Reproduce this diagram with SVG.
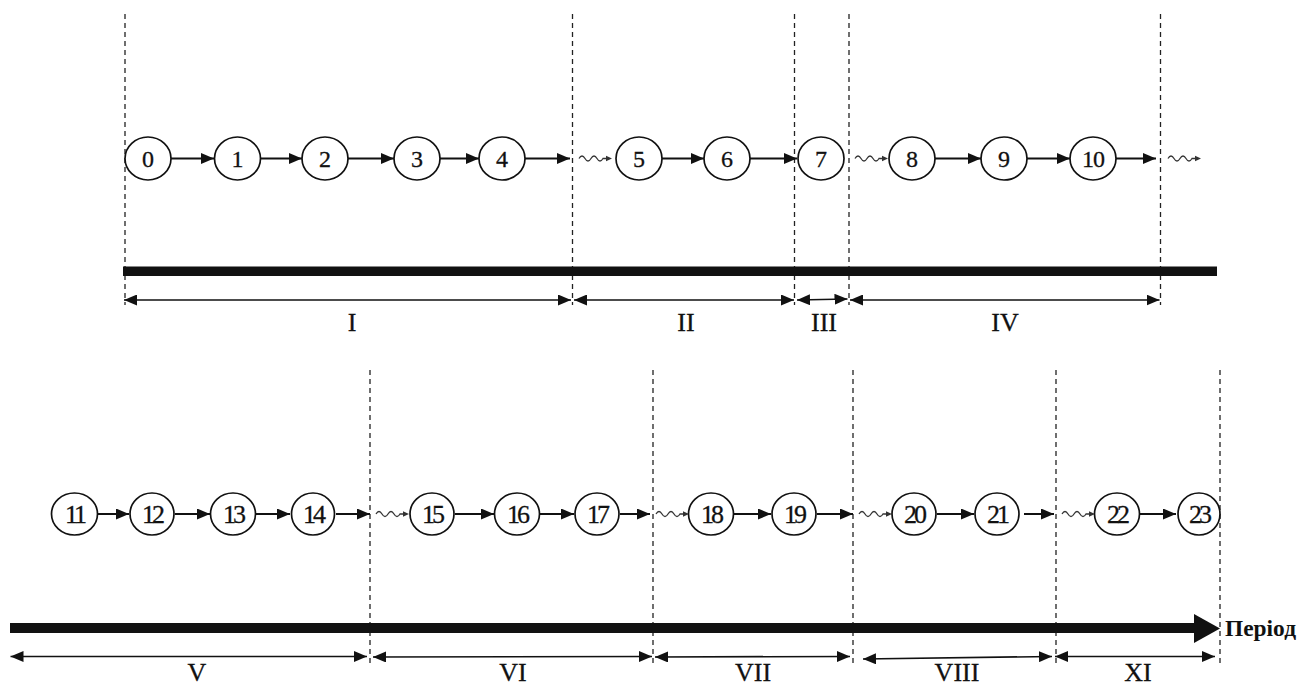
<svg xmlns="http://www.w3.org/2000/svg" width="1299" height="686" viewBox="0 0 1299 686">
<style>
.bg{fill:#fff}
.node ellipse{fill:#fff;stroke:#111;stroke-width:1.7}
.node text{font-family:"Liberation Serif","Times New Roman",serif;font-size:24px;fill:#111;text-anchor:middle;stroke:#111;stroke-width:0.3}
.node.b text{font-size:26px;letter-spacing:-3px}
.conn line{stroke:#111;stroke-width:2;marker-end:url(#ah)}
.dash{stroke:#222;stroke-width:1.3;stroke-dasharray:5,4;fill:none}
.dim{stroke:#111;stroke-width:1.7;marker-start:url(#dh);marker-end:url(#dh)}
.lbl{font-family:"Liberation Serif","Times New Roman",serif;font-size:26px;fill:#111;text-anchor:middle;stroke:#111;stroke-width:0.3}
.wave{fill:none;stroke:#333;stroke-width:1.3}
</style>
<defs>
<marker id="ah" markerUnits="userSpaceOnUse" markerWidth="13" markerHeight="11" refX="13" refY="5.5" orient="auto"><path d="M0,0 L13,5.5 L0,11 z" fill="#111"/></marker>
<marker id="dh" markerUnits="userSpaceOnUse" markerWidth="13" markerHeight="11" refX="13" refY="5.5" orient="auto-start-reverse"><path d="M0,0 L13,5.5 L0,11 z" fill="#111"/></marker>
<g id="wv"><path class="wave" d="M0,0 q3,-5 6,0 t6,0 t6,0 t6,0 L29,0"/><path d="M33,0 L27,-2.8 L27,2.8 z" fill="#333"/></g>
</defs>
<rect class="bg" x="0" y="0" width="1299" height="686"/>

<g id="guides">
<line class="dash" x1="125" y1="14" x2="125" y2="305"/>
<line class="dash" x1="572.5" y1="14" x2="572.5" y2="305"/>
<line class="dash" x1="794.5" y1="14" x2="794.5" y2="305"/>
<line class="dash" x1="849" y1="14" x2="849" y2="305"/>
<line class="dash" x1="1160.5" y1="14" x2="1160.5" y2="305"/>
<line class="dash" x1="370" y1="370" x2="370" y2="666"/>
<line class="dash" x1="653" y1="370" x2="653" y2="666"/>
<line class="dash" x1="853" y1="370" x2="853" y2="666"/>
<line class="dash" x1="1056" y1="370" x2="1056" y2="666"/>
<line class="dash" x1="1220" y1="370" x2="1220" y2="666"/>
</g>

<g id="timeline">
<rect x="123" y="266.5" width="1094" height="9.5" fill="#111"/>
<rect x="10" y="623" width="1187" height="10" fill="#111"/>
<path d="M1194,614 L1220,628.5 L1194,643 z" fill="#111"/>
<text x="1225" y="636" font-family="'Liberation Serif','Times New Roman',serif" font-weight="bold" font-size="23" textLength="71" lengthAdjust="spacingAndGlyphs" fill="#111">Період</text>
</g>

<g id="connectors" class="conn">
<line x1="171" y1="158.5" x2="214" y2="158.5"/>
<line x1="260.5" y1="158.5" x2="302" y2="158.5"/>
<line x1="348" y1="158.5" x2="394" y2="158.5"/>
<line x1="440" y1="158.5" x2="479" y2="158.5"/>
<line x1="525" y1="158.5" x2="570" y2="158.5"/>
<line x1="662" y1="158.5" x2="704" y2="158.5"/>
<line x1="750" y1="158.5" x2="797" y2="158.5"/>
<line x1="935" y1="158.5" x2="981" y2="158.5"/>
<line x1="1027" y1="158.5" x2="1070" y2="158.5"/>
<line x1="1116" y1="158.5" x2="1156" y2="158.5"/>
<line x1="97.5" y1="514" x2="129" y2="514"/>
<line x1="175" y1="514" x2="210" y2="514"/>
<line x1="256" y1="514" x2="290" y2="514"/>
<line x1="336" y1="514" x2="370" y2="514"/>
<line x1="455" y1="514" x2="494" y2="514"/>
<line x1="540" y1="514" x2="574" y2="514"/>
<line x1="620" y1="514" x2="650" y2="514"/>
<line x1="734" y1="514" x2="771" y2="514"/>
<line x1="817" y1="514" x2="853" y2="514"/>
<line x1="937" y1="514" x2="974" y2="514"/>
<line x1="1024" y1="514" x2="1054" y2="514"/>
<line x1="1140" y1="514" x2="1176" y2="514"/>
</g>

<g id="waves">
<use href="#wv" x="579" y="158.5"/>
<use href="#wv" x="855" y="158.5"/>
<use href="#wv" x="1168" y="158.5"/>
<use href="#wv" x="376" y="514"/>
<use href="#wv" x="656" y="514"/>
<use href="#wv" x="859" y="514"/>
<use href="#wv" x="1062" y="514"/>
</g>

<g id="n0" class="node"><ellipse cx="148" cy="158.5" rx="23" ry="21.5"/><text x="148" y="167">0</text></g>
<g id="n1" class="node"><ellipse cx="237.5" cy="158.5" rx="23" ry="21.5"/><text x="237.5" y="167">1</text></g>
<g id="n2" class="node"><ellipse cx="325" cy="158.5" rx="23" ry="21.5"/><text x="325" y="167">2</text></g>
<g id="n3" class="node"><ellipse cx="417" cy="158.5" rx="23" ry="21.5"/><text x="417" y="167">3</text></g>
<g id="n4" class="node"><ellipse cx="502" cy="158.5" rx="23" ry="21.5"/><text x="502" y="167">4</text></g>
<g id="n5" class="node"><ellipse cx="639" cy="158.5" rx="23" ry="21.5"/><text x="639" y="167">5</text></g>
<g id="n6" class="node"><ellipse cx="727" cy="158.5" rx="23" ry="21.5"/><text x="727" y="167">6</text></g>
<g id="n7" class="node"><ellipse cx="821" cy="158.5" rx="23" ry="21.5"/><text x="821" y="167">7</text></g>
<g id="n8" class="node"><ellipse cx="912" cy="158.5" rx="23" ry="21.5"/><text x="912" y="167">8</text></g>
<g id="n9" class="node"><ellipse cx="1004" cy="158.5" rx="23" ry="21.5"/><text x="1004" y="167">9</text></g>
<g id="n10" class="node"><ellipse cx="1093" cy="158.5" rx="23" ry="21.5"/><text x="1093" y="167" letter-spacing="-1">10</text></g>

<g id="n11" class="node b"><ellipse cx="74.5" cy="514" rx="23" ry="21"/><text x="74.5" y="523">11</text></g>
<g id="n12" class="node b"><ellipse cx="152" cy="514" rx="22" ry="21"/><text x="152" y="523">12</text></g>
<g id="n13" class="node b"><ellipse cx="233" cy="514" rx="22.5" ry="21"/><text x="233" y="523">13</text></g>
<g id="n14" class="node b"><ellipse cx="313" cy="514" rx="21.5" ry="21"/><text x="313" y="523">14</text></g>
<g id="n15" class="node b"><ellipse cx="432" cy="514" rx="22" ry="21"/><text x="432" y="523">15</text></g>
<g id="n16" class="node b"><ellipse cx="517" cy="514" rx="22.5" ry="21"/><text x="517" y="523">16</text></g>
<g id="n17" class="node b"><ellipse cx="597" cy="514" rx="22" ry="21"/><text x="597" y="523">17</text></g>
<g id="n18" class="node b"><ellipse cx="711" cy="514" rx="22.5" ry="21"/><text x="711" y="523">18</text></g>
<g id="n19" class="node b"><ellipse cx="794" cy="514" rx="22" ry="21"/><text x="794" y="523">19</text></g>
<g id="n20" class="node b"><ellipse cx="914" cy="514" rx="22" ry="21"/><text x="914" y="523">20</text></g>
<g id="n21" class="node b"><ellipse cx="997" cy="514" rx="22" ry="21"/><text x="997" y="523">21</text></g>
<g id="n22" class="node b"><ellipse cx="1117" cy="514" rx="22.5" ry="21"/><text x="1117" y="523">22</text></g>
<g id="n23" class="node b"><ellipse cx="1199" cy="514" rx="21" ry="21"/><text x="1199" y="523">23</text></g>

<g id="dimensions">
<line class="dim" x1="124" y1="300" x2="571" y2="300"/>
<line class="dim" x1="574" y1="300" x2="794" y2="300"/>
<line class="dim" x1="797" y1="300" x2="847.5" y2="299"/>
<line class="dim" x1="850" y1="300" x2="1159.5" y2="300"/>
<line class="dim" x1="10.5" y1="656.5" x2="367" y2="656.5"/>
<line class="dim" x1="373" y1="657" x2="652" y2="656.5"/>
<line class="dim" x1="655" y1="657" x2="850" y2="656.5"/>
<line class="dim" x1="863" y1="659" x2="1052" y2="656.5"/>
<line class="dim" x1="1055" y1="656.5" x2="1215" y2="656.5"/>
<text class="lbl" x="352" y="331">I</text>
<text class="lbl" x="686" y="331">II</text>
<text class="lbl" x="824" y="331">III</text>
<text class="lbl" x="1005" y="331">IV</text>
<text class="lbl" x="197" y="681">V</text>
<text class="lbl" x="513" y="681">VI</text>
<text class="lbl" x="753" y="681">VII</text>
<text class="lbl" x="957" y="681">VIII</text>
<text class="lbl" x="1138" y="681">XI</text>
</g>
</svg>
